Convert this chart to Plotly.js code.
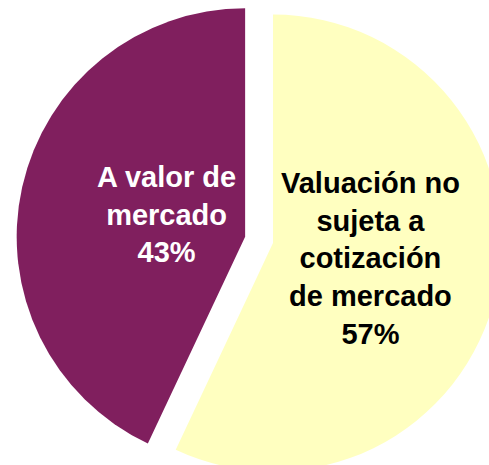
<!DOCTYPE html>
<html>
<head>
<meta charset="utf-8">
<script src="https://cdn.plot.ly/plotly-3.0.1.min.js"></script>
<style>
html, body { margin: 0; padding: 0; overflow: hidden; width: 489px; height: 465px; background: #fff; }
#chart { position: absolute; left: 16px; top: -14px; width: 514px; height: 514px; }
</style>
</head>
<body>
<div id="chart"></div>
<script>
const labels = ["Valuación no<br>sujeta a<br>cotización<br>de mercado", "A valor de<br>mercado"];
const values = [57, 43];
const colors = ["#FFFFC0", "#801F5E"];
const textColors = ["#000000", "#FFFFFF"];
const pulls = [0, 0.125];
// label anchor positions (paper fractions) for each slice's text
const labelX = [0.689, 0.292];
const labelY = [0.469, 0.555];

const total = values.reduce((a, b) => a + b, 0);
const annotations = labels.map((lab, i) => ({
  xref: "paper", yref: "paper",
  x: labelX[i], y: labelY[i],
  xanchor: "center", yanchor: "middle",
  showarrow: false,
  align: "center",
  text: lab + "<br>" + Math.round(values[i] / total * 100) + "%",
  font: { family: "Liberation Sans, Arial, sans-serif", size: 29, weight: "bold", color: textColors[i] }
}));

Plotly.newPlot("chart", [{
  type: "pie",
  labels: labels,
  values: values,
  sort: false,
  direction: "clockwise",
  rotation: 0,
  pull: pulls,
  marker: { colors: colors, line: { width: 0 } },
  textinfo: "none",
  hoverinfo: "none"
}], {
  width: 514,
  height: 514,
  margin: { l: 0, r: 0, t: 0, b: 0, pad: 0 },
  showlegend: false,
  annotations: annotations,
  paper_bgcolor: "rgba(0,0,0,0)",
  plot_bgcolor: "rgba(0,0,0,0)"
}, { staticPlot: true, displayModeBar: false });
</script>
</body>
</html>
